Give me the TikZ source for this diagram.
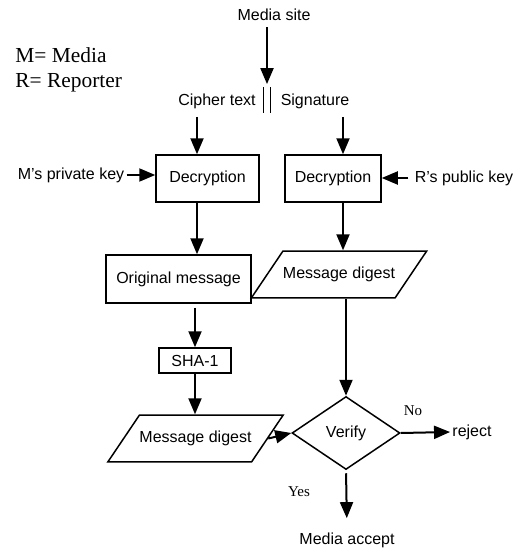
\documentclass[tikz,border=0pt]{standalone}
\usepackage{fontspec}
\setmainfont{Liberation Serif}
\setsansfont{Liberation Sans}
\usepackage{tikz}
\usetikzlibrary{arrows.meta,positioning,calc,shapes.geometric}

\begin{document}
\begin{tikzpicture}[x=0.5pt,y=-0.5pt,
		label/.style={font=\sffamily\fontsize{8}{9.6}\selectfont, inner sep=1pt},
		box/.style={draw, line width=0.75pt, font=\sffamily\fontsize{8}{9.6}\selectfont, inner sep=0pt},
		datbox/.style={box, trapezium, trapezium left angle=56, trapezium right angle=124, inner xsep=0pt, inner ysep=8pt},
		arr/.style={line width=1pt, -{Triangle[length=8pt,width=6.5pt]}},
		note/.style={font=\fontsize{10.7}{12.8}\selectfont, inner sep=0pt, anchor=west},
		ans/.style={font=\fontsize{7.5}{9}\selectfont, inner sep=0pt}]
	\useasboundingbox (0,0) rectangle (518,551);
	
	% column positions of the vertical arrows
	\coordinate (colL) at (197,0);
	\coordinate (colR) at (343,0);
	
	\node[note] (legM) at (15,55) {M= Media};
	\node[note] (legR) at (15,83) {R= Reporter};
	
	\node[label] (site) at (274,15) {Media site};
	\node[minimum width=3pt, minimum height=12.5pt, inner sep=0pt] (bar) at (267,100) {};
	\draw[line width=0.5pt] (bar.north west) -- (bar.south west);
	\draw[line width=0.5pt] (bar.north east) -- (bar.south east);
	\node[label] (cipher) at (217,101) {Cipher text};
	\node[label] (sig) at (315,101) {Signature};
	
	\node[box, minimum width=51.5pt, minimum height=23.5pt] (decL) at (207.5,178.5) {Decryption};
	\node[box, minimum width=48pt, minimum height=23.5pt] (decR) at (333,178.5) {Decryption};
	\node[label] (mkey) at (71,175) {M's private key};
	\node[label] (rkey) at (464,178) {R's public key};
	
	\node[box, minimum width=72.5pt, minimum height=24pt] (orig) at (178.5,279) {Original message};
	\node[datbox] (digR) at (339,274.5) {Message digest};
	\node[box, minimum width=36pt, minimum height=12.5pt] (sha) at (195,360.5) {SHA-1};
	\node[datbox] (digL) at (195.5,438.5) {Message digest};
	\node[box, diamond, minimum width=54pt, minimum height=36.5pt] (verify) at (346,433) {Verify};
	
	\node[label] (reject) at (472,432) {reject};
	\node[label] (accept) at (347,540) {Media accept};
	\node[ans] (no) at (413,411) {No};
	\node[ans] (yes) at (299,492) {Yes};
	
	\draw[arr, shorten <=2pt, shorten >=1.5pt] (site.south -| bar) -- (bar.north);
	\draw[arr, shorten <=3pt] (cipher.south -| colL) -- (decL.north -| colL);
	\draw[arr, shorten <=3pt] (sig.south -| colR) -- (decR.north -| colR);
	\draw[arr] (mkey.east) -- (mkey.east -| decL.west);
	\draw[arr, shorten <=2pt] (rkey.west) -- (rkey.west -| decR.east);
	\draw[arr] (decL.south -| colL) -- (orig.north -| colL);
	\draw[arr] (decR.south -| colR) -- (digR.north -| colR);
	\draw[arr, shorten <=2pt] (orig.south -| sha.north) -- (sha.north);
	\draw[arr] (sha.south) -- (digL.north -| sha.south);
	\draw[arr] (digR.south -| verify.north) -- (verify.north);
	\draw[arr] (digL.east) -- (verify.west);
	\draw[arr] (verify.east) -- (reject.west);
	\draw[arr, shorten <=1.5pt, shorten >=6pt] (verify.south) -- (accept.north);
\end{tikzpicture}
\end{document}
